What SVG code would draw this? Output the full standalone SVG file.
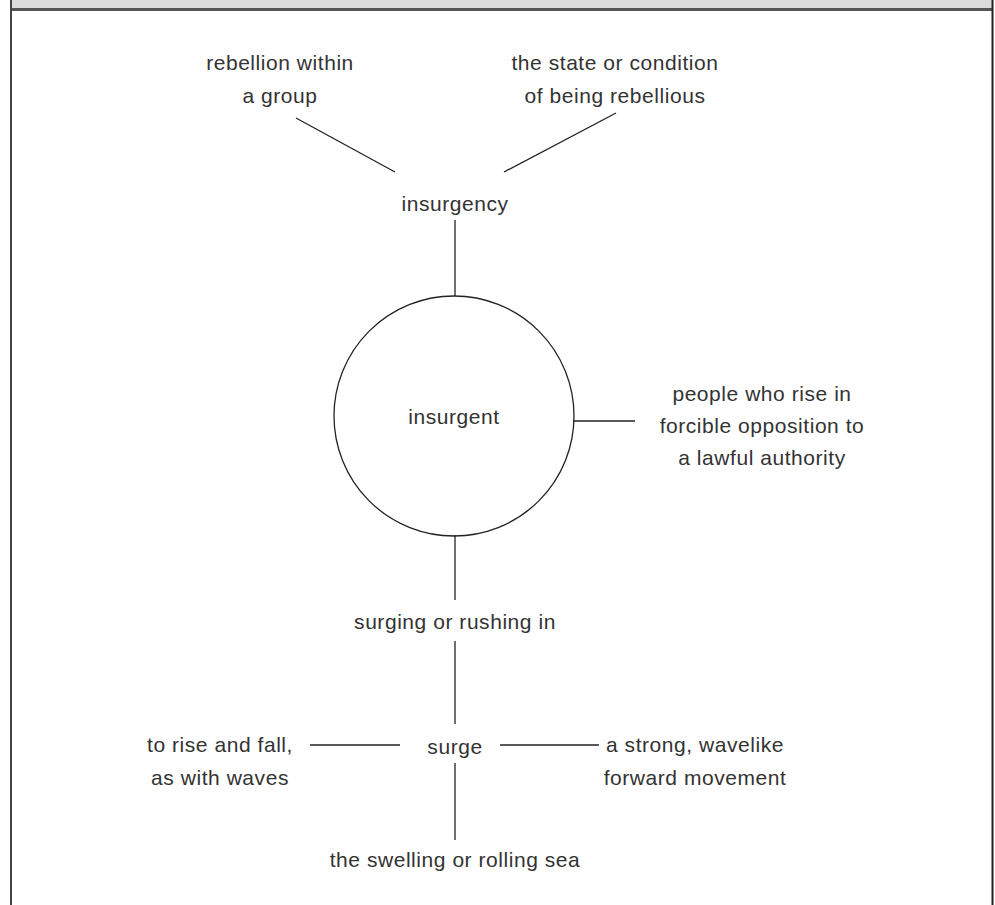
<svg xmlns="http://www.w3.org/2000/svg" width="995" height="905" viewBox="0 0 995 905">
<style>
text{font-family:"Liberation Sans",Arial,sans-serif;font-size:21px;letter-spacing:0.55px;fill:#333;text-anchor:middle}
.c{stroke:#222;stroke-width:1.3;fill:none}
</style>
<rect x="0" y="0" width="995" height="905" fill="#fff"/>
<rect x="10" y="0" width="983" height="9" fill="#dcdcdc"/>
<line x1="10" y1="9.5" x2="993" y2="9.5" stroke="#555" stroke-width="3"/>
<line x1="11" y1="0" x2="11" y2="905" stroke="#444" stroke-width="2"/>
<line x1="992.5" y1="0" x2="992.5" y2="905" stroke="#222" stroke-width="2"/>
<g id="connectors">
<line class="c" x1="296" y1="118" x2="395" y2="172"/>
<line class="c" x1="616" y1="113" x2="504" y2="172"/>
<line class="c" x1="455" y1="220" x2="455" y2="296"/>
<line class="c" x1="573" y1="421" x2="635" y2="421"/>
<line class="c" x1="455" y1="535" x2="455" y2="600"/>
<line class="c" x1="455" y1="641" x2="455" y2="724"/>
<line class="c" x1="310" y1="745" x2="400" y2="745"/>
<line class="c" x1="500" y1="745" x2="599" y2="745"/>
<line class="c" x1="455" y1="763" x2="455" y2="840"/>
</g>
<g id="insurgent"><circle cx="454" cy="416" r="120" class="c"/><text x="454" y="424">insurgent</text></g>
<g id="insurgency"><text x="455" y="211">insurgency</text></g>
<g id="rebellion-group"><text x="280" y="70">rebellion within</text><text x="280" y="103">a group</text></g>
<g id="state-rebellious"><text x="615" y="70">the state or condition</text><text x="615" y="103">of being rebellious</text></g>
<g id="people"><text x="762" y="401">people who rise in</text><text x="762" y="433">forcible opposition to</text><text x="762" y="465">a lawful authority</text></g>
<g id="surging"><text x="455" y="629">surging or rushing in</text></g>
<g id="surge"><text x="455" y="754">surge</text></g>
<g id="rise-fall"><text x="220" y="752">to rise and fall,</text><text x="220" y="785">as with waves</text></g>
<g id="strong"><text x="695" y="752">a strong, wavelike</text><text x="695" y="785">forward movement</text></g>
<g id="sea"><text x="455" y="867">the swelling or rolling sea</text></g>
</svg>
